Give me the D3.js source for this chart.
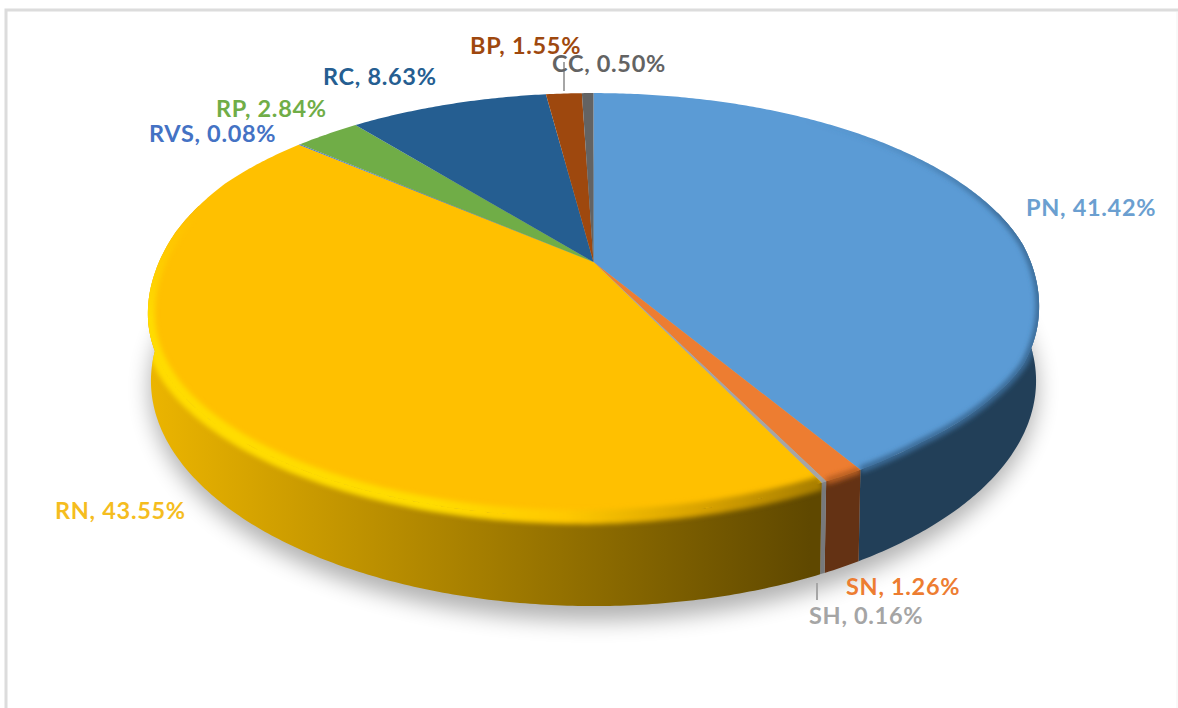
<!DOCTYPE html>
<html>
<head>
<meta charset="utf-8">
<script src="https://cdn.jsdelivr.net/npm/d3@7"></script>
<style>
  html, body { margin: 0; padding: 0; background: #fff; }
  text { font-family: Lato, "Open Sans", sans-serif; font-weight: 700; font-size: 23.5px; letter-spacing: 0.7px; }
</style>
</head>
<body>
<div id="chart"></div>
<script>
const categories = ["PN", "SN", "SH", "RN", "RVS", "RP", "RC", "BP", "CC"];
const shares = [41.42, 1.26, 0.16, 43.55, 0.08, 2.84, 8.63, 1.55, 0.50];

const topColors = ["#5b9bd5", "#ed7d31", "#a5a5a5", "#ffc000", "#4472c4", "#70ad47", "#255e91", "#9e480e", "#636363"];
const labelColors = ["#6b9fd0", "#ed7d31", "#a5a5a5", "#f5bd1f", "#4472c4", "#70ad47", "#255e91", "#9e480e", "#636363"];
// wall shading, left to right
const wallDark = ["#223f58", "#643214", "#77797b", "#5f4800", "#2a4a80", "#3d6326", "#14344f", "#5a2808", "#383838"];
const wallLight = ["#223f58", "#643214", "#77797b", "#ecb500", "#2a4a80", "#3d6326", "#14344f", "#5a2808", "#383838"];

// label anchor (left x, baseline y) for each category
const labelPos = {
  PN: [1026, 216], SN: [846, 595], SH: [809, 624], RN: [55, 519], RVS: [149, 142],
  RP: [216, 117], RC: [323, 85], BP: [470, 54], CC: [552, 72]
};
const leaders = [[564, 62, 564, 91], [817, 583, 817, 600]];

const W = 1178, H = 708;
const svg = d3.select("#chart").append("svg").attr("width", W).attr("height", H).style("display", "block");
const defs = svg.append("defs");

// the two discs of the pie seen in perspective
const cx = 593.5, k = 0.184;
const topDisc = { a: 438, b: 200, y0: 262 };
const baseDisc = { a: 435, b: 217.5, y0: 339.5 };
const deg = Math.PI / 180;

// the bevel pushes the front of the top edge down a little
const bevelDrop = d3.scaleLinear()
  .domain([85, 105, 115, 125, 140, 150, 180, 240, 258, 270, 280, 295].map(d => d * deg))
  .range([0, 8, 10, 5, 2, 4, 10, 15, 14, 9, 4, 0])
  .clamp(true);

function project(angle, disc) {
  const u = Math.sin(angle), v = -Math.cos(angle), w = 1 - k * v;
  const drop = disc === topDisc ? bevelDrop(angle) : 0;
  return [cx + disc.a * u / w, disc.y0 + disc.b * v / w + drop];
}
function arcPoints(a0, a1, disc) {
  const n = Math.max(2, Math.ceil((a1 - a0) / 0.01));
  return d3.range(n + 1).map(i => project(a0 + (a1 - a0) * i / n, disc));
}

const line = d3.line();
const slices = d3.pie().sort(null).value(d => d)(shares);

const blur = (id, s) => defs.append("filter").attr("id", id)
  .attr("filterUnits", "userSpaceOnUse").attr("x", 0).attr("y", 0).attr("width", W).attr("height", H)
  .append("feGaussianBlur").attr("stdDeviation", s);
blur("shadowBlur", 11);
blur("rimBlur", 2.5);

function gradient(id, x1, y1, x2, y2, stops) {
  const g = defs.append("linearGradient").attr("id", id).attr("gradientUnits", "userSpaceOnUse")
    .attr("x1", x1).attr("y1", y1).attr("x2", x2).attr("y2", y2);
  stops.forEach(s => g.append("stop").attr("offset", s[0]).attr("stop-color", s[1]).attr("stop-opacity", s[2] === undefined ? 1 : s[2]));
}

// frame of the chart area
svg.append("path").attr("d", line([[6, H], [6, 10], [W, 10]]))
  .attr("fill", "none").attr("stroke", "#dcdcdc").attr("stroke-width", 3);
svg.append("path").attr("d", line([[1177, 12], [1177, H]]))
  .attr("fill", "none").attr("stroke", "#f2f2f2").attr("stroke-width", 1);

// soft shadow under the pie
svg.append("path")
  .attr("d", line(arcPoints(0, 2 * Math.PI, { a: 436, b: 224, y0: 346 })) + "Z")
  .attr("fill", "#000").attr("opacity", 0.3).attr("filter", "url(#shadowBlur)");

// walls, only the part facing the viewer
const walls = svg.append("g");
const wallPaths = {};
slices.forEach((s, i) => {
  const a0 = Math.max(s.startAngle, 75 * deg), a1 = Math.min(s.endAngle, 288 * deg);
  if (a1 <= a0) return;
  gradient("wall" + i, 147, 0, 810, 0, [[0, wallLight[i]], [1, wallDark[i]]]);
  const pts = arcPoints(a0, a1, topDisc).concat(arcPoints(a0, a1, baseDisc).reverse());
  wallPaths[i] = line(pts) + "Z";
  walls.append("path").attr("d", wallPaths[i]).attr("fill", `url(#wall${i})`);
});

// top face
const face = svg.append("g");
slices.forEach((s, i) => {
  const d = line([[cx, topDisc.y0]].concat(arcPoints(s.startAngle, s.endAngle, topDisc))) + "Z";
  face.append("path").attr("d", d).attr("fill", topColors[i]);
  defs.append("clipPath").attr("id", "clip" + i).append("path").attr("d", d + (wallPaths[i] || ""));
});

// blurred bevel along the rim, fading out towards the back
gradient("rimRN", 147, 0, 820, 0, [[0, "#ffdc00"], [0.42, "#ffdc00"], [0.62, "#ffc800"], [0.82, "#d9a300"], [1, "#a87e00"]]);
gradient("rimPN", 0, 120, 0, 330, [[0, "#3a6a96", 0], [0.45, "#3a6a96", 0.9], [1, "#3a6a96"]]);
gradient("rimFade", 0, 215, 0, 320, [[0, "#fff", 0], [1, "#fff", 1]]);
defs.append("mask").attr("id", "rimMask").attr("maskUnits", "userSpaceOnUse")
  .attr("x", 0).attr("y", 0).attr("width", W).attr("height", H)
  .append("rect").attr("width", W).attr("height", H).attr("fill", "url(#rimFade)");

const rimStrokes = { PN: "url(#rimPN)", SN: "#b85f22", SH: "#8f9092", RN: "url(#rimRN)" };
const rimWidths = { PN: 7, SN: 7, SH: 5, RN: 14 };

slices.forEach((s, i) => {
  const c = categories[i];
  if (!rimStrokes[c]) return;
  const a0 = Math.max(s.startAngle, 25 * deg), a1 = Math.min(s.endAngle, 300 * deg);
  face.append("g").attr("clip-path", `url(#clip${i})`)
    .append("g").attr("mask", c === "RN" ? "url(#rimMask)" : null)
    .append("path").attr("d", line(arcPoints(a0, a1, topDisc)))
    .attr("fill", "none").attr("stroke", rimStrokes[c]).attr("stroke-width", rimWidths[c])
    .attr("filter", "url(#rimBlur)");
});

// leader lines
svg.selectAll(".leader").data(leaders).enter().append("line").attr("class", "leader")
  .attr("x1", d => d[0]).attr("y1", d => d[1]).attr("x2", d => d[2]).attr("y2", d => d[3])
  .attr("stroke", "#a6a6a6").attr("stroke-width", 2);

// labels
svg.selectAll(".label").data(categories).enter().append("text").attr("class", "label")
  .attr("x", d => labelPos[d][0]).attr("y", d => labelPos[d][1])
  .attr("fill", (d, i) => labelColors[i])
  .text((d, i) => `${d}, ${shares[i].toFixed(2)}%`);
</script>
</body>
</html>
